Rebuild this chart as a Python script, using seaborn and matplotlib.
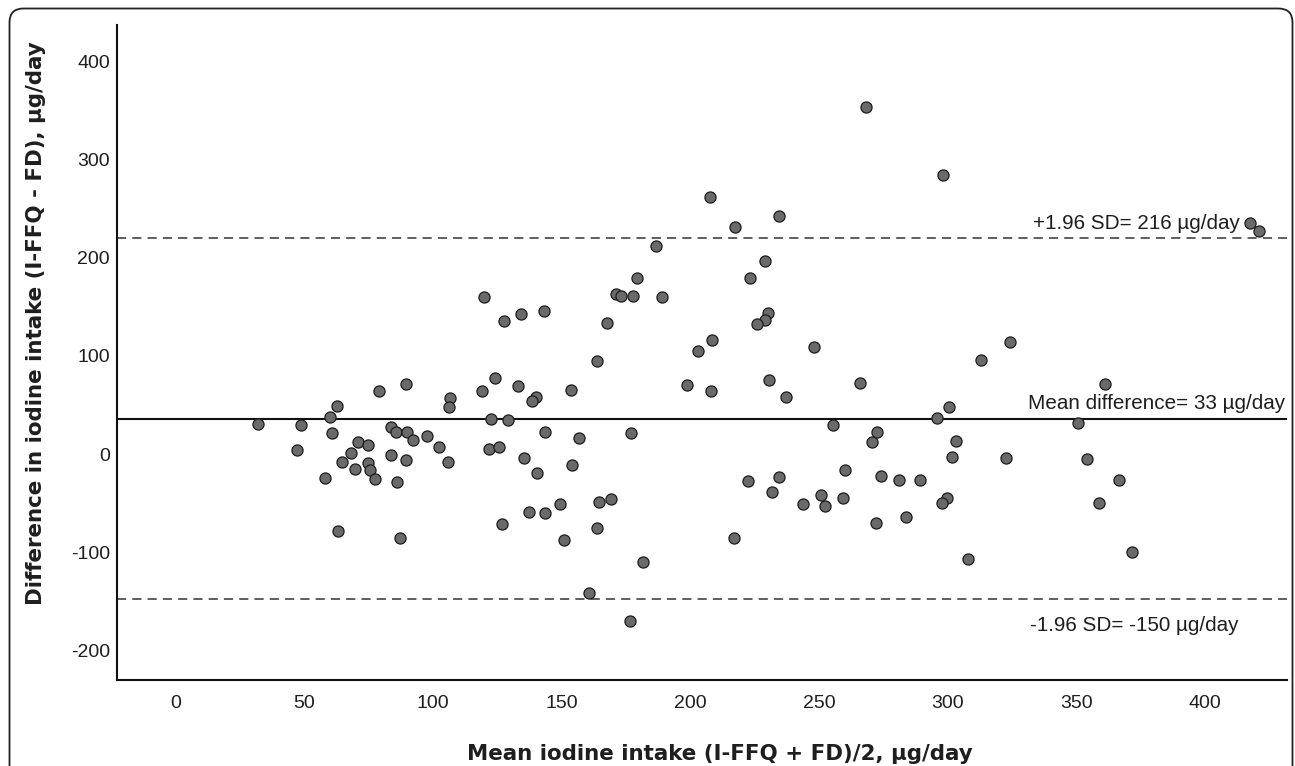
import matplotlib
matplotlib.use("Agg")
import matplotlib.pyplot as plt
from matplotlib.patches import FancyBboxPatch
from matplotlib.transforms import IdentityTransform
import pandas as pd
import seaborn as sns

# Bland-Altman data (µg/day)
mean_intake = [32.2, 48.6, 47.2, 62.6, 59.9, 60.7, 79.1, 89.7, 71.0, 74.7,
               68.1, 64.7, 69.6, 74.8, 75.6, 77.6, 58.2, 83.7, 85.5, 89.9,
               92.4, 97.6, 83.7, 89.7, 86.2, 102.4, 105.7, 106.6, 106.4, 63.0,
               87.2, 119.9, 119.0, 124.0, 122.7, 121.9, 125.6, 126.7, 127.6,
               134.3, 143.0, 129.2, 133.1, 140.2, 138.5, 153.5, 163.6, 167.6,
               171.1, 173.1, 177.7, 179.2, 186.6, 189.1, 143.4, 156.8, 177.0,
               135.4, 140.3, 154.2, 137.5, 143.6, 149.5, 150.9, 164.4, 169.3,
               163.6, 181.7, 160.6, 176.7, 207.8, 217.5, 234.3, 229.0, 223.1,
               230.1, 229.1, 225.9, 208.3, 202.9, 198.8, 208.2, 230.6, 237.3,
               222.5, 234.6, 231.7, 216.9,
               268.3, 298.2, 248.1, 265.9, 255.4, 272.7, 270.6, 295.8, 300.6,
               303.1, 301.7, 312.9, 324.1, 322.8, 260.0, 274.2, 281.1, 289.2,
               250.7, 243.9, 252.3, 259.4, 272.0, 283.7, 299.8, 297.8, 307.9,
               417.4, 421.0, 361.1, 350.7, 354.2, 366.6, 358.8, 371.6]
diff_intake = [30.2, 29.8, 4.1, 49.2, 37.4, 21.1, 64.2, 71.6, 12.5, 8.9,
               1.3, -7.8, -15.3, -8.9, -16.6, -25.1, -24.4, 27.5, 22.7, 22.1,
               13.9, 18.6, -1.0, -6.4, -28.2, 6.8, -8.5, 57.0, 47.6, -78.1,
               -85.5, 160.2, 63.8, 77.4, 35.6, 5.1, 7.1, -71.0, 135.1,
               142.9, 145.9, 34.6, 69.2, 58.4, 54.3, 65.2, 94.4, 133.7,
               163.2, 160.9, 160.9, 178.9, 211.8, 159.9, 22.4, 16.3, 21.4,
               -3.7, -19.3, -10.9, -58.7, -60.4, -50.6, -87.6, -48.5, -45.8,
               -75.4, -109.6, -141.9, -169.7, 261.4, 231.5, 242.7, 196.8, 179.5,
               143.6, 136.8, 132.7, 115.8, 104.6, 70.0, 64.2, 75.1, 58.0,
               -27.8, -23.1, -38.4, -85.5,
               353.9, 283.9, 108.9, 72.8, 29.9, 22.4, 12.0, 37.1, 48.2,
               13.4, -3.3, 96.0, 114.3, -4.0, -16.5, -22.6, -26.9, -26.9,
               -41.9, -51.1, -53.3, -44.4, -70.5, -64.1, -44.7, -50.1, -107.2,
               234.9, 227.1, 71.3, 31.9, -4.8, -26.8, -49.9, -100.1]

# reference lines (as drawn) and their labels
line_names = ["upper", "mean", "lower"]
line_values = [219.5, 36.0, -147.5]
line_labels = ["+1.96 SD= 216 µg/day", "Mean difference= 33 µg/day",
               "-1.96 SD= -150 µg/day"]

x_ticks = [0, 50, 100, 150, 200, 250, 300, 350, 400]
y_ticks = [-200, -100, 0, 100, 200, 300, 400]


def plot_bland_altman():
    '''
    Draws the Bland-Altman plot of the I-FFQ against the food diary
    '''
    sns.set_style("white")
    plt.rcParams['font.family'] = ['Liberation Sans', 'DejaVu Sans']
    plt.rcParams['axes.unicode_minus'] = False

    fig = plt.figure(figsize=(12.95, 7.66), dpi=100)
    ax = fig.add_axes([117 / 1295, 86 / 766, 1170 / 1295, 655 / 766])

    df = pd.DataFrame({"mean": mean_intake, "diff": diff_intake})
    sns.scatterplot(data=df, x="mean", y="diff", ax=ax, s=64,
                    color="#6a6a6a", edgecolor="#1c1c1c", linewidth=0.9,
                    zorder=3)

    # mean and limits of agreement
    styles = {"upper": dict(color="#333333", lw=1.1, dashes=(6, 4)),
              "mean": dict(color="#111111", lw=1.5, ls="-"),
              "lower": dict(color="#333333", lw=1.1, dashes=(6, 4))}
    for name, val in zip(line_names, line_values):
        st = styles[name]
        line = ax.axhline(val, color=st["color"], lw=st["lw"], zorder=2)
        if "dashes" in st:
            line.set_dashes(st["dashes"])

    txt = dict(fontsize=14.9, color="#1e1e1e", va="baseline", ha="left")
    ax.text(333.1, 229.6, line_labels[0], **txt)
    ax.text(331.2, 45.5, line_labels[1], **txt)
    ax.text(332.0, -180.2, line_labels[2], **txt)

    ax.set_xlim(-22.7, 431.8)
    ax.set_ylim(-230.1, 436.9)
    ax.set_xticks(x_ticks)
    ax.set_yticks(y_ticks)
    ax.tick_params(axis="x", length=0, pad=11, labelsize=14,
                   labelcolor="#1e1e1e")
    ax.tick_params(axis="y", length=0, pad=5, labelsize=14,
                   labelcolor="#1e1e1e")

    for side in ["top", "right"]:
        ax.spines[side].set_visible(False)
    for side in ["left", "bottom"]:
        ax.spines[side].set_linewidth(1.5)
        ax.spines[side].set_color("#111111")

    # Labels
    ax.set_xlabel("Mean iodine intake (I-FFQ + FD)/2, µg/day",
                  fontsize=15.4, fontweight="bold", family="DejaVu Sans",
                  color="#1e1e1e")
    ax.set_ylabel("Difference in iodine intake (I-FFQ - FD), µg/day",
                  fontsize=15.4, fontweight="bold", family="DejaVu Sans",
                  color="#1e1e1e")
    ax.xaxis.label.set_va("center")
    ax.yaxis.label.set_va("center")
    ax.xaxis.set_label_coords((720 - 117) / 1170, (680 - 754) / 655)
    ax.yaxis.set_label_coords((36.5 - 117) / 1170, (680 - 323) / 655)

    # rounded frame around the figure (open at the bottom)
    frame = FancyBboxPatch((9.5, -40), 1283.0, 797.5,
                           boxstyle="round,pad=0,rounding_size=14",
                           transform=IdentityTransform(), fill=False,
                           edgecolor="#222222", linewidth=1.3)
    fig.add_artist(frame)

    fig.savefig("out.png", dpi=100)


if __name__ == "__main__":
    plot_bland_altman()
